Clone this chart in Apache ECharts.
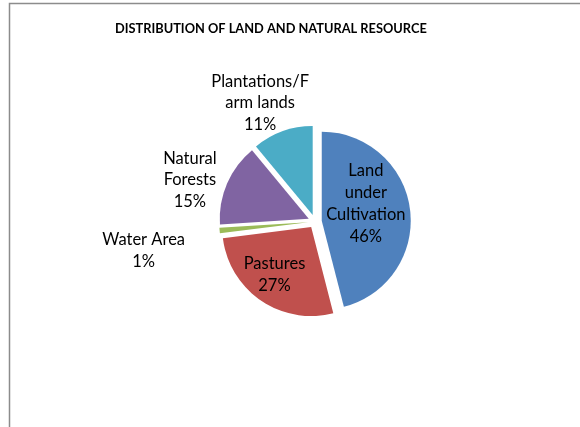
<!DOCTYPE html>
<html>
<head>
<meta charset="utf-8">
<script src="https://cdn.jsdelivr.net/npm/echarts@6/dist/echarts.min.js"></script>
<style>
html,body{margin:0;padding:0;background:#fff;}
#chart{width:580px;height:427px;}
</style>
</head>
<body>
<div id="chart"></div>
<script>
// Data
const categories = ['Land under Cultivation', 'Pastures', 'Water Area', 'Natural Forests', 'Plantations/Farm lands'];
const labelTexts = ['Land\nunder\nCultivation', 'Pastures', 'Water Area', 'Natural\nForests', 'Plantations/F\narm lands'];
const values = [46, 27, 1, 15, 11];
const colors = ['#4F81BD', '#C0504D', '#9BBB59', '#8064A2', '#4BACC6'];

// Label placement (style only)
const labelInside = [true, true, false, false, false];
const labelShift = [[-3, -11], [-10, 8], [-61, 19], [-23, 0.5], [-14, -19]];

const chart = echarts.init(document.getElementById('chart'), null, {renderer: 'canvas'});
const font = 'Lato, "Noto Sans", sans-serif';

const data = values.map((v, i) => ({
  name: categories[i],
  value: v,
  selected: true,
  itemStyle: {color: colors[i]},
  label: {
    position: labelInside[i] ? 'inside' : 'outside',
    formatter: labelTexts[i] + '\n{d}%'
  },
  labelLine: {show: false, length: 10, length2: 0}
}));

chart.setOption({
  animation: false,
  title: {
    text: 'DISTRIBUTION OF LAND AND NATURAL RESOURCE',
    left: 110,
    top: 17,
    textStyle: {fontFamily: font, fontSize: 12.8, fontWeight: 'bold', color: '#000'}
  },
  graphic: [{
    type: 'rect',
    shape: {x: 9.5, y: 3.5, width: 700, height: 700},
    style: {fill: 'none', stroke: '#8c8c8c', lineWidth: 1.5},
    silent: true
  }],
  series: [{
    type: 'pie',
    center: [315, 221.5],
    radius: 89,
    startAngle: 90,
    clockwise: true,
    selectedMode: 'multiple',
    selectedOffset: 6.8,
    avoidLabelOverlap: false,
    emphasis: {disabled: true},
    itemStyle: {borderWidth: 0},
    label: {
      fontFamily: font,
      fontSize: 16.5,
      lineHeight: 21.7,
      color: '#000',
      formatter: '{b}\n{d}%'
    },
    labelLayout: function (params) {
      const s = labelShift[params.dataIndex];
      return {dx: s[0], dy: s[1], align: 'center'};
    },
    data: data
  }]
});
</script>
</body>
</html>
